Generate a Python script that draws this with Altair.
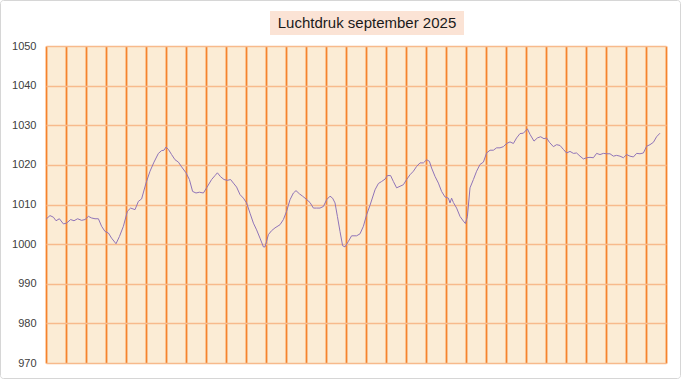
import altair as alt
import pandas as pd

TITLE = "Luchtdruk september 2025"

# day offset (0 = start of the month) and pressure in hPa
dag = [
    0.00, 0.20, 0.37, 0.50, 0.67, 0.87, 1.03, 1.23, 1.40, 1.58, 1.78, 1.95,
    2.12, 2.28, 2.45, 2.62, 2.78, 2.95, 3.12, 3.28, 3.50, 3.67, 3.87, 4.07,
    4.23, 4.45, 4.62, 4.78, 5.00, 5.20, 5.40, 5.62, 5.78, 5.90, 6.00, 6.12,
    6.28, 6.45, 6.62, 6.78, 7.00, 7.17, 7.33, 7.50, 7.67, 7.87, 8.03, 8.28,
    8.45, 8.57, 8.73, 8.90, 9.07, 9.23, 9.37, 9.53, 9.70, 9.87, 10.03, 10.20,
    10.37, 10.53, 10.70, 10.87, 10.95, 11.12, 11.28, 11.45, 11.70, 11.87,
    12.03, 12.20, 12.37, 12.50, 12.67, 12.83, 13.00, 13.20, 13.37, 13.53,
    13.70, 13.87, 14.03, 14.20, 14.33, 14.45, 14.57, 14.70, 14.83, 14.95,
    15.12, 15.28, 15.53, 15.70, 15.87, 16.03, 16.20, 16.45, 16.62, 16.78,
    16.95, 17.07, 17.23, 17.37, 17.53, 17.70, 17.87, 18.03, 18.20, 18.37,
    18.53, 18.70, 18.87, 19.03, 19.17, 19.28, 19.45, 19.62, 19.78, 19.95,
    20.12, 20.20, 20.28, 20.37, 20.53, 20.70, 20.87, 20.97, 21.07, 21.20,
    21.37, 21.53, 21.70, 21.87, 22.03, 22.20, 22.37, 22.53, 22.70, 22.87,
    23.03, 23.20, 23.37, 23.53, 23.70, 23.87, 24.07, 24.20, 24.40, 24.57,
    24.73, 24.90, 25.03, 25.17, 25.37, 25.53, 25.70, 25.87, 26.03, 26.20,
    26.37, 26.53, 26.70, 26.87, 27.03, 27.20, 27.37, 27.53, 27.70, 27.87,
    28.03, 28.20, 28.37, 28.53, 28.70, 28.87, 29.03, 29.20, 29.37, 29.53,
    29.70, 29.87, 30.03, 30.20, 30.37, 30.53, 30.70,
]
druk = [
    1006.3, 1007.2, 1006.8, 1005.9, 1006.4, 1005.1, 1005.3, 1006.2, 1005.9, 1006.4, 1006.0, 1006.2,
    1007.0, 1006.6, 1006.4, 1006.4, 1004.5, 1003.2, 1002.8, 1001.5, 1000.1, 1001.9, 1004.5, 1008.3,
    1009.1, 1008.7, 1010.8, 1011.4, 1015.4, 1018.4, 1020.7, 1022.9, 1023.6, 1023.7, 1024.5, 1023.9,
    1022.6, 1021.3, 1020.7, 1019.5, 1018.0, 1016.3, 1013.3, 1012.9, 1013.1, 1012.9, 1014.2, 1016.3,
    1017.3, 1018.0, 1017.0, 1016.3, 1016.1, 1016.3, 1015.4, 1014.4, 1012.5, 1011.6, 1010.4, 1007.8,
    1005.3, 1003.6, 1001.5, 999.3, 999.3, 1002.4, 1003.4, 1004.1, 1004.9, 1006.2,
    1008.3, 1011.2, 1012.9, 1013.5, 1012.7, 1012.1, 1011.4, 1010.5, 1009.1, 1009.1,
    1009.1, 1009.5, 1011.2, 1012.1, 1011.6, 1010.4, 1007.0, 1003.2, 999.6, 999.3,
    1000.7, 1002.1, 1002.1, 1002.6, 1004.5, 1007.4, 1009.8, 1013.7, 1015.3, 1015.8,
    1016.4, 1017.3, 1017.3, 1015.8, 1014.2, 1014.6, 1015.0, 1016.3, 1017.5, 1018.4,
    1019.6, 1020.5, 1020.5, 1021.3, 1020.9, 1019.2, 1017.1, 1015.4, 1013.3, 1011.9,
    1011.6, 1010.4, 1011.6, 1010.5, 1009.1, 1007.0, 1005.8, 1005.2, 1007.0, 1014.2,
    1016.3, 1018.4, 1020.1, 1020.7, 1023.0, 1023.7, 1023.7, 1024.3, 1024.3, 1024.6,
    1025.4, 1025.8, 1025.4, 1026.8, 1027.9, 1028.0, 1029.1, 1027.7, 1026.0, 1026.8,
    1027.1, 1026.6, 1026.8, 1025.7, 1024.6, 1025.1, 1024.9, 1023.9, 1023.0, 1023.4,
    1022.9, 1023.0, 1022.2, 1021.5, 1021.8, 1021.9, 1021.8, 1022.9, 1022.6, 1022.9,
    1022.8, 1022.8, 1022.2, 1022.4, 1022.2, 1021.8, 1022.6, 1022.2, 1022.0, 1022.9,
    1022.8, 1023.0, 1024.7, 1025.1, 1025.7, 1027.1, 1028.0,
]

Y_TICKS = [970, 980, 990, 1000, 1010, 1020, 1030, 1040, 1050]
X_GRID = list(range(32))

df = pd.DataFrame({"dag": dag, "druk": druk})

W, H = 620, 317

line = alt.Chart(df).mark_line(color="#9074B8", strokeWidth=1.0).encode(
    x=alt.X(
        "dag:Q",
        scale=alt.Scale(domain=[0, 31], nice=False, zero=False),
        axis=alt.Axis(values=X_GRID, labels=False, ticks=False, domain=False,
                      grid=True, gridColor="#F5832C", gridWidth=1.8, title=None),
    ),
    y=alt.Y(
        "druk:Q",
        scale=alt.Scale(domain=[970, 1050], nice=False, zero=False),
        axis=alt.Axis(values=Y_TICKS, format="d", ticks=False, domain=False, grid=True,
                      gridColor="#F7BA8C", gridWidth=1.5, labelFontSize=11,
                      labelFont="Liberation Sans", labelColor="#404040",
                      labelPadding=10, title=None),
    ),
)

title_data = alt.Data(values=[{"t": TITLE}])

title_box = alt.Chart(title_data).mark_rect(fill="#FBE3D5").encode(
    x=alt.value(224), x2=alt.value(418), y=alt.value(-35), y2=alt.value(-11)
)
title_text = alt.Chart(title_data).mark_text(
    font="Liberation Sans", fontSize=15, color="#1A1A1A", align="center", baseline="middle"
).encode(x=alt.value(321), y=alt.value(-23), text="t:N")

border = alt.Chart(title_data).mark_rect(
    fillOpacity=0, stroke="#D6D6D6", strokeWidth=1, cornerRadius=3
).encode(x=alt.value(-45.5), x2=alt.value(634.5), y=alt.value(-45.5), y2=alt.value(332.5))

chart = alt.layer(border, title_box, title_text, line).properties(
    width=W,
    height=H,
    padding={"left": 46, "top": 46, "right": 15, "bottom": 16},
    autosize=alt.AutoSizeParams(type="none"),
    background="white",
).configure_view(fill="#FBECD5", strokeWidth=0)

chart.save("out.html", embed_options={"renderer": "svg", "actions": False})
